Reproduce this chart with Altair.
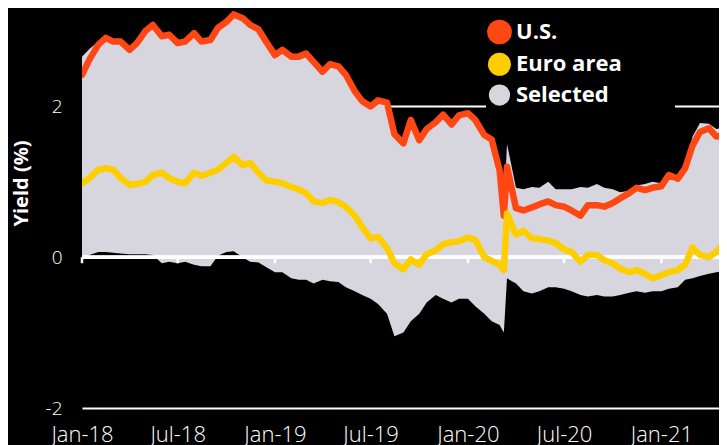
import altair as alt
import pandas as pd

# ---- data (semi-monthly readings, plus 9 Mar 2020) ----
base_dates = [f"{y}-{m:02d}-{d:02d}" for y in range(2018, 2022)
              for m in range(1, 13) for d in (1, 15)]
base_dates = [d for d in base_dates if d <= "2021-05-15"]
dates = sorted(base_dates + ["2020-03-09"])

us = [2.42, 2.62, 2.82, 2.91, 2.86, 2.86, 2.75, 2.84, 3.00, 3.08,
      2.93, 2.95, 2.84, 2.86, 2.97, 2.86, 2.88, 3.04, 3.12, 3.22,
      3.17, 3.08, 3.02, 2.86, 2.68, 2.75, 2.66, 2.66, 2.70, 2.59,
      2.46, 2.56, 2.53, 2.42, 2.20, 2.07, 2.00, 2.08, 2.05, 1.63,
      1.51, 1.82, 1.55, 1.70, 1.79, 1.89, 1.76, 1.88, 1.91, 1.82,
      1.62, 1.56, 1.15, 0.55, 1.20, 0.65, 0.62, 0.66, 0.70, 0.74,
      0.69, 0.67, 0.62, 0.55, 0.69, 0.69, 0.67, 0.72, 0.78, 0.85,
      0.92, 0.89, 0.92, 0.94, 1.09, 1.04, 1.18, 1.48, 1.66, 1.71,
      1.60, 1.62, 1.64]

euro = [0.98, 1.05, 1.16, 1.18, 1.16, 1.05, 0.96, 0.97, 1.00, 1.09,
        1.12, 1.05, 1.00, 0.98, 1.12, 1.08, 1.12, 1.16, 1.25, 1.33,
        1.22, 1.25, 1.12, 1.02, 1.00, 0.98, 0.93, 0.90, 0.85, 0.74,
        0.72, 0.76, 0.73, 0.67, 0.55, 0.40, 0.25, 0.27, 0.12, -0.08,
        -0.16, -0.03, -0.10, 0.04, 0.09, 0.17, 0.20, 0.21, 0.26, 0.23,
        0.00, -0.05, -0.10, -0.17, 0.58, 0.30, 0.35, 0.25, 0.24, 0.22,
        0.19, 0.10, 0.07, -0.06, 0.03, 0.03, -0.04, -0.08, -0.15, -0.20,
        -0.17, -0.22, -0.28, -0.24, -0.20, -0.17, -0.10, 0.13, 0.03, 0.00,
        0.07, 0.20, 0.25]

selected_high = [2.66, 2.76, 2.86, 2.91, 2.86, 2.86, 2.75, 2.84, 3.00, 3.08,
                 2.93, 2.95, 2.84, 2.86, 2.97, 2.86, 2.88, 3.04, 3.12, 3.22,
                 3.17, 3.08, 3.02, 2.86, 2.68, 2.75, 2.66, 2.66, 2.70, 2.59,
                 2.46, 2.56, 2.53, 2.42, 2.20, 2.07, 2.00, 2.08, 2.05, 1.63,
                 1.51, 1.82, 1.55, 1.70, 1.79, 1.89, 1.76, 1.88, 1.91, 1.82,
                 1.62, 1.56, 1.20, 0.62, 1.50, 0.92, 0.90, 0.93, 0.92, 1.00,
                 0.90, 0.90, 0.90, 0.93, 0.92, 0.97, 0.92, 0.90, 0.86, 0.88,
                 0.95, 0.97, 1.00, 0.98, 1.12, 1.08, 1.21, 1.60, 1.78, 1.77,
                 1.70, 1.72, 1.74]

selected_low = [-0.02, 0.03, 0.07, 0.07, 0.06, 0.05, 0.04, 0.04, 0.04, 0.03,
                -0.08, -0.06, -0.08, -0.06, -0.10, -0.12, -0.12, 0.02, 0.07, 0.08,
                0.00, -0.06, -0.07, -0.13, -0.20, -0.20, -0.28, -0.30, -0.30, -0.35,
                -0.30, -0.32, -0.33, -0.40, -0.45, -0.50, -0.55, -0.62, -0.75, -1.05,
                -1.00, -0.85, -0.75, -0.60, -0.50, -0.55, -0.60, -0.55, -0.55, -0.65,
                -0.75, -0.85, -0.90, -1.00, -0.28, -0.35, -0.45, -0.48, -0.45, -0.40,
                -0.40, -0.42, -0.45, -0.50, -0.52, -0.50, -0.52, -0.52, -0.50, -0.47,
                -0.45, -0.47, -0.45, -0.45, -0.42, -0.40, -0.30, -0.28, -0.25, -0.22,
                -0.20, -0.18, -0.18]

tick_dates = ["2018-01-01", "2018-07-01", "2019-01-01", "2019-07-01",
              "2020-01-01", "2020-07-01", "2021-01-01"]
x_range = ["2018-01-01", "2021-04-20"]
y_ticks = [-2, 0, 2]

legend_labels = ["U.S.", "Euro area", "Selected"]
legend_colors = ["#ff4713", "#ffce00", "#d7d6de"]
legend_sizes = [610, 450, 450]

FONT = "Open Sans"

df = pd.DataFrame({
    "date": [d + "T00:00:00" for d in dates],
    "us": us, "euro": euro, "low": selected_low, "high": selected_high,
})
ticks_df = pd.DataFrame({"date": [d + "T00:00:00" for d in tick_dates]})
legend_df = pd.DataFrame({"series": legend_labels})


def dt(s):
    y, m, d = (int(p) for p in s.split("-"))
    return alt.DateTime(year=y, month=m, date=d)


x_scale = alt.Scale(domain=[dt(s) for s in x_range])
y_scale = alt.Scale(domain=[-2, 3.305], nice=False, zero=False)

x_axis = alt.Axis(values=[dt(s) for s in tick_dates], format="%b-%y",
                  grid=False, domain=False, ticks=False, labelColor="white",
                  labelFont=FONT, labelFontSize=22, labelFontWeight=300,
                  labelPadding=16, labelFlush=False, labelOverlap=False,
                  labelBound=False, title=None)
y_axis = alt.Axis(values=y_ticks, grid=True, gridColor="white", gridWidth=2,
                  gridOpacity=1, domain=False, ticks=False, labelColor="white",
                  labelFont=FONT, labelFontSize=19, labelFontWeight=300,
                  labelPadding=20,
                  labelExpr="datum.value < 0 ? '-' + abs(datum.value) : '' + datum.value",
                  title="Yield (%)", titleColor="white", titleFont=FONT,
                  titleFontSize=20, titleFontWeight="bold", titleAngle=270,
                  titleX=-61, titleY=175, titleAlign="center",
                  titleBaseline="middle")

legend_def = alt.Legend(orient="none", legendX=404, legendY=10.5,
                        direction="vertical", fillColor="black",
                        padding=1, labelFont=FONT, labelFontSize=22,
                        labelFontWeight="bold", labelColor="white",
                        symbolType="circle",
                        symbolStrokeWidth=0, symbolOpacity=1,
                        rowPadding=7.8, labelOffset=4, title=None)

legend_layer = alt.Chart(legend_df).mark_point(filled=True, opacity=0).encode(
    x=alt.value(0), y=alt.value(0),
    color=alt.Color("series:N",
                    scale=alt.Scale(domain=legend_labels, range=legend_colors),
                    legend=legend_def),
    size=alt.Size("series:N",
                  scale=alt.Scale(domain=legend_labels, range=legend_sizes),
                  legend=legend_def),
)

# black backing strip behind the legend block (interrupts the 2% gridline)
legend_backing = alt.Chart(legend_df).mark_rect(color="black").encode(
    x=alt.value(404), x2=alt.value(593), y=alt.value(95), y2=alt.value(101)
)

base = alt.Chart(df)
area = base.mark_area(color="#d7d6de", clip=True).encode(
    x=alt.X("date:T", scale=x_scale, axis=x_axis),
    y=alt.Y("low:Q", scale=y_scale, axis=y_axis),
    y2="high:Q",
)
zero_rule = alt.Chart(ticks_df).mark_rule(color="white", strokeWidth=3).encode(
    y=alt.datum(0)
)
zero_ticks = alt.Chart(ticks_df).mark_rule(color="white", strokeWidth=2.5).encode(
    x="date:T", y=alt.datum(0), y2=alt.datum(-0.08)
)
us_line = base.mark_line(color="#ff4713", strokeWidth=6.5, clip=True,
                         strokeJoin="round", strokeCap="round").encode(
    x="date:T", y="us:Q")
euro_line = base.mark_line(color="#ffce00", strokeWidth=6.5, clip=True,
                           strokeJoin="round", strokeCap="round").encode(
    x="date:T", y="euro:Q")

chart = alt.layer(legend_layer, legend_backing, area, zero_rule, zero_ticks,
                  us_line, euro_line).properties(
    width=637, height=400,
    autosize=alt.AutoSizeParams(type="none"),
    padding={"left": 74, "top": 0, "right": 0, "bottom": 40},
).configure(background="black").configure_view(stroke=None)

chart.save("out.html", embed_options={"renderer": "svg", "actions": False})
